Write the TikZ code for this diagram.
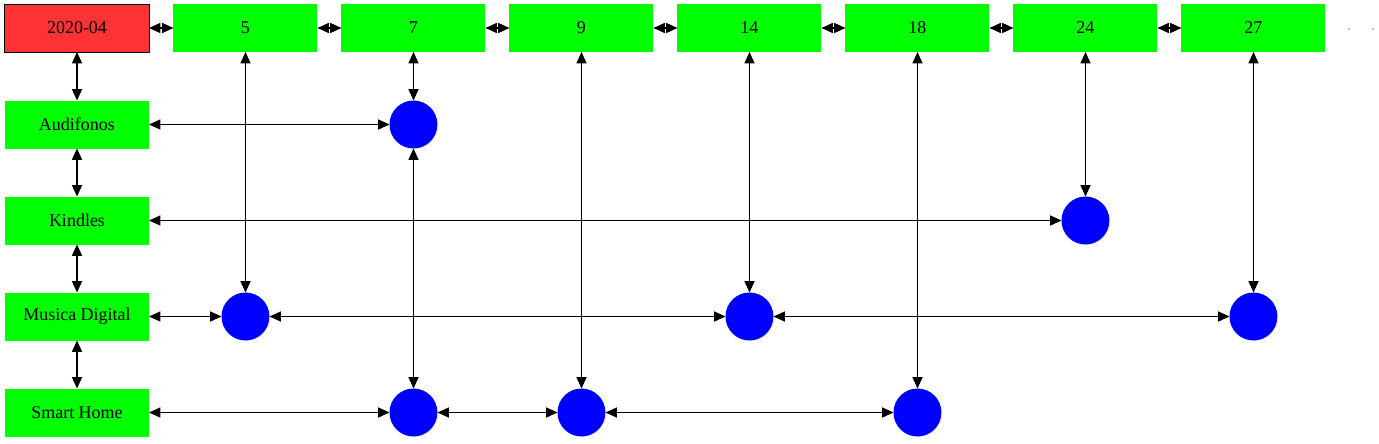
\documentclass[tikz,border=0pt]{standalone}
\usepackage{fontspec}
\setmainfont{Liberation Serif}
\usetikzlibrary{matrix,arrows.meta}
\definecolor{hdrred}{HTML}{FF3333}
\definecolor{cellgreen}{HTML}{00FF00}
\definecolor{entryblue}{HTML}{0000FF}
\tikzset{
  hdr/.style={fill=hdrred, draw=black, line width=0.75pt},
  lbl/.style={fill=cellgreen},
  entry/.style={circle, fill=entryblue, minimum size=36pt, inner sep=0pt},
  tinydot/.style={circle, fill=black, minimum size=0.8pt, inner sep=0pt},
  >={Triangle[length=8.5pt,width=7.5pt]}
}

\begin{document}
\begin{tikzpicture}[x=0.75pt,y=-0.75pt]
  \useasboundingbox (0,0) rectangle (1379,443);
  \matrix (m) [matrix of nodes, row sep=36pt, column sep=18pt, anchor=m-1-1.center,
    nodes={anchor=center, outer sep=0pt, minimum width=108pt, minimum height=36pt,
      font=\fontsize{13.5}{16}\selectfont}] at (77,28)
  {
|[hdr]| 2020-04 & |[lbl]| 5 & |[lbl]| 7 & |[lbl]| 9 & |[lbl]| 14 & |[lbl]| 18 & |[lbl]| 24 & |[lbl]| 27 \\
|[lbl]| Audifonos & & |[entry]| {} \\
|[lbl]| Kindles & & & & & & |[entry]| {} \\
|[lbl]| Musica Digital & |[entry]| {} & & & |[entry]| {} & & & |[entry]| {} \\
|[lbl]| Smart Home & & |[entry]| {} & |[entry]| {} & & |[entry]| {} \\
};
  \node[tinydot] (e1) at (1349,29) {};
  \node[tinydot] (e2) at (1373,29) {};
  \foreach \i/\j in {1/2,2/3,3/4,4/5,5/6,6/7,7/8}
    \draw[<->, line width=1pt] (m-1-\i) -- (m-1-\j);
  \path[<->, line width=1pt]
  (m-1-1) edge (m-2-1)
  (m-2-1) edge (m-3-1)
  (m-3-1) edge (m-4-1)
  (m-4-1) edge (m-5-1)
  (m-2-1) edge (m-2-3)
  (m-3-1) edge (m-3-7)
  (m-4-1) edge (m-4-2)
  (m-4-2) edge (m-4-5)
  (m-4-5) edge (m-4-8)
  (m-5-1) edge (m-5-3)
  (m-5-3) edge (m-5-4)
  (m-5-4) edge (m-5-6)
  (m-1-2) edge (m-4-2)
  (m-1-3) edge (m-2-3)
  (m-2-3) edge (m-5-3)
  (m-1-4) edge (m-5-4)
  (m-1-5) edge (m-4-5)
  (m-1-6) edge (m-5-6)
  (m-1-7) edge (m-3-7)
  (m-1-8) edge (m-4-8)
  ;
\end{tikzpicture}
\end{document}
